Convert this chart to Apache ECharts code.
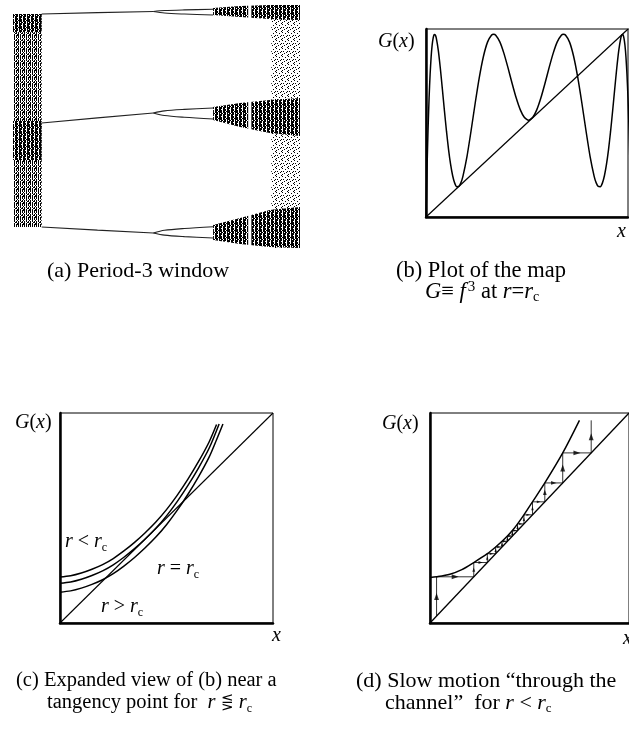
<!DOCTYPE html>
<html><head><meta charset="utf-8">
<script src="https://cdn.jsdelivr.net/npm/echarts@6/dist/echarts.min.js"></script>
<style>html,body{margin:0;padding:0;background:#fff}#c{width:629px;height:730px}</style>
</head><body><div id="c"></div><script>
// ---------- (a) Period-3 window : parameter r on x, orbit value on y ----------
const preSplitR   = [3.8276, 3.8346, 3.8416];
const topBranch   = [0.9578, 0.9625, 0.9667];
const midBranch   = [0.5676, 0.5860, 0.6033];
const lowBranch   = [0.1952, 0.1840, 0.1737];
const splitR      = [3.8416, 3.8430, 3.8455, 3.8491];
const topUpper    = [0.9667, 0.9701, 0.9724, 0.9746];
const topLower    = [0.9667, 0.9612, 0.9576, 0.9540];
const midUpper    = [0.6033, 0.6110, 0.6162, 0.6212];
const midLower    = [0.6033, 0.5941, 0.5879, 0.5819];
const lowUpper    = [0.1737, 0.1834, 0.1900, 0.1963];
const lowLower    = [0.1737, 0.1660, 0.1608, 0.1558];
// chaotic regions: r, lower edge, upper edge
const leftChaosR  = [3.8240, 3.8276];
const leftChaosLo = [0.1952, 0.1952];
const leftChaosHi = [0.9578, 0.9578];
const leftDark1Lo = [0.8930, 0.8930];
const leftDark1Hi = [0.9578, 0.9578];
const leftDark2Lo = [0.4351, 0.4351];
const leftDark2Hi = [0.5747, 0.5747];
const rightBandR  = [3.8491, 3.8525, 3.8562, 3.8600];
const topBandLo   = [0.9542, 0.9470, 0.9399, 0.9363];
const topBandHi   = [0.9793, 0.9864, 0.9900, 0.9900];
const midBandLo   = [0.5783, 0.5532, 0.5317, 0.5210];
const midBandHi   = [0.6248, 0.6391, 0.6499, 0.6570];
const lowBandLo   = [0.1487, 0.1344, 0.1236, 0.1200];
const lowBandHi   = [0.2024, 0.2274, 0.2561, 0.2668];
const innerWindowR  = [3.8535, 3.8539];
const innerWindowLo = [0.1200, 0.1200];
const innerWindowHi = [0.9900, 0.9900];
const rightChaosR  = [3.8564, 3.8600];
const rightChaosLo = [0.1200, 0.1200];
const rightChaosHi = [0.9900, 0.9900];

// ---------- (b) G = f^3 at r = rc ----------
const bX = [0,0.005,0.01,0.015,0.02,0.025,0.03,0.035,0.04,0.045,0.05,0.06,0.07,0.08,0.09,0.10,0.11,0.12,0.13,0.14,0.15,0.16,0.17,0.18,0.20,0.22,0.24,0.26,0.28,0.30,0.32,0.33,0.34,0.36,0.38,0.40,0.42,0.44,0.46,0.48,0.50,
  0.52,0.54,0.56,0.58,0.60,0.62,0.64,0.66,0.67,0.68,0.70,0.72,0.74,0.76,0.78,0.80,0.82,0.83,0.84,0.85,0.86,0.87,0.88,0.89,0.90,0.91,0.92,0.93,0.94,0.95,0.955,0.96,0.965,0.97,0.975,0.98,0.985,0.99,0.995,1.0];
const bG = [0,0.2542,0.4598,0.6224,0.7470,0.8384,0.9010,0.9389,0.9556,0.9545,0.9386,0.8731,0.7779,0.6680,0.5552,0.4482,0.3534,0.2752,0.2162,0.1775,0.1591,0.1600,0.1787,0.2129,0.3179,0.4532,0.5973,0.7314,0.8408,0.9162,0.9531,0.9571,0.9520,0.9175,0.8573,0.7811,0.6996,0.6233,0.5614,0.5211,0.5072,
  0.5211,0.5614,0.6233,0.6996,0.7811,0.8573,0.9175,0.9520,0.9571,0.9531,0.9162,0.8408,0.7314,0.5973,0.4532,0.3179,0.2129,0.1787,0.1600,0.1591,0.1775,0.2162,0.2752,0.3534,0.4482,0.5552,0.6680,0.7779,0.8731,0.9386,0.9545,0.9556,0.9389,0.9010,0.8384,0.7470,0.6224,0.4598,0.2542,0];

// ---------- (c) expanded view near tangency ----------
const cTopU = [0,0.05,0.1,0.15,0.2,0.25,0.3,0.35,0.4,0.45,0.5,0.55,0.6,0.65,0.7,0.735];
const cTopG = [0.219,0.225,0.238,0.256,0.278,0.307,0.343,0.384,0.430,0.481,0.540,0.608,0.684,0.768,0.862,0.945];
const cMidU = [0,0.05,0.1,0.15,0.2,0.25,0.3,0.35,0.4,0.45,0.5,0.55,0.6,0.65,0.7,0.747];
const cMidG = [0.189,0.195,0.208,0.226,0.248,0.277,0.313,0.354,0.400,0.451,0.510,0.578,0.654,0.738,0.832,0.948];
const cLowU = [0,0.05,0.1,0.15,0.2,0.25,0.3,0.35,0.4,0.45,0.5,0.55,0.6,0.65,0.7,0.735,0.765];
const cLowG = [0.147,0.153,0.166,0.184,0.206,0.235,0.271,0.312,0.358,0.409,0.468,0.536,0.612,0.696,0.790,0.873,0.948];

// ---------- (d) slow motion through the channel ----------
const dU = [0,0.033,0.1,0.16,0.22,0.288,0.33,0.362,0.389,0.414,0.44,0.472,0.515,0.577,0.667,0.751];
const dG = [0.217,0.220,0.232,0.254,0.288,0.330,0.362,0.389,0.414,0.440,0.472,0.515,0.577,0.667,0.810,0.965];
const orbit = [0.033,0.220,0.288,0.330,0.362,0.389,0.414,0.440,0.472,0.515,0.577,0.667,0.810,0.965];

// ---------- textures for the chaotic bands (style only) ----------
function tile(rows){
  const c=document.createElement('canvas'); c.width=rows[0].length; c.height=rows.length;
  const g=c.getContext('2d'); g.fillStyle='#fff'; g.fillRect(0,0,c.width,c.height); g.fillStyle='#000';
  rows.forEach((r,y)=>{for(let x=0;x<r.length;x++) if(r[x]==='#') g.fillRect(x,y,1,1);});
  return {image:c, repeat:'repeat'};
}
const darkFill = tile(["##.###.#","##.#.##.","##.###.#","#..###.#","##.##..#","##.###.#","#.####.#"]);
const medFill  = tile(["#.#.##","#.#.#.","#.#.#.","..#..#","#.#.#.","#..##.","#.#..#"]);
const lightFill= tile(["#.....","...#..","......",".#...#","....#.","..#...","#.....",".....#"]);

function band(gi, R, lo, hi, fill, z){
  return {type:'custom', xAxisIndex:gi, yAxisIndex:gi, silent:true, z:z||1,
    data: R.map((r,i)=>[r, lo[i], hi[i]]),
    renderItem: (p, api)=>{
      if(p.dataIndex!==0) return null;
      const pts=[];
      for(let i=0;i<R.length;i++) pts.push(api.coord([R[i], hi[i]]));
      for(let i=R.length-1;i>=0;i--) pts.push(api.coord([R[i], lo[i]]));
      return {type:'polygon', shape:{points:pts}, style:{fill:fill, stroke:null}};
    }};
}
function line(gi, xs, ys, w, color, extra){
  return Object.assign({type:'line', xAxisIndex:gi, yAxisIndex:gi, data: xs.map((x,i)=>[x, ys[i]]),
    symbol:'none', clip:true, silent:true, z:3, lineStyle:{color:color||'#000', width:w}}, extra||{});
}
function axes(gi, min, max, show, w){
  return {gridIndex:gi, type:'value', min:min, max:max, show:show,
    axisLine:{show:true, onZero:false, lineStyle:{color:'#000', width:w}},
    axisTick:{show:false}, axisLabel:{show:false}, splitLine:{show:false}};
}

// cobweb vertices built from the orbit
const web = [];
for(let i=0;i<orbit.length-1;i++){ web.push([orbit[i], orbit[i]]); web.push([orbit[i], orbit[i+1]]); }
const upArrows=[], rightArrows=[];
for(let i=0;i<orbit.length-1;i++){
  const len = orbit[i+1]-orbit[i];
  const s = Math.max(3.5, Math.min(7, len*60));
  upArrows.push({value:[orbit[i], (orbit[i]+orbit[i+1])/2], symbolSize:[s*0.7,s]});
  if(i<orbit.length-2) rightArrows.push({value:[(orbit[i]+orbit[i+1])/2, orbit[i+1]], symbolSize:[s,s*0.7]});
}

const serif='"Liberation Serif","DejaVu Serif",serif';
function mkRich(fs){
  return {
    n:{fontFamily:serif, fontSize:fs, lineHeight:24, fill:'#000'},
    i:{fontFamily:serif, fontSize:fs, lineHeight:24, fontStyle:'italic', fill:'#000'},
    sym:{fontFamily:'"DejaVu Serif",serif', fontSize:fs-6, lineHeight:24, fill:'#000'},
    sub:{fontFamily:serif, fontSize:Math.round(fs*0.6), lineHeight:9, verticalAlign:'bottom', fill:'#000'},
    sup:{fontFamily:serif, fontSize:Math.round(fs*0.65), lineHeight:9, verticalAlign:'top', fill:'#000', padding:[0,0,0,2]}
  };
}
const richLab = mkRich(20), richA = mkRich(22), richB = mkRich(22.5), richC = mkRich(20.5), richD = mkRich(22);
function txt(x, y, text, rich){
  return {type:'text', x:x, y:y, silent:true, z:10,
    style:{text:text, rich:rich||richLab, fontFamily:serif, fontSize:20, fill:'#000', verticalAlign:'middle', align:'left'}};
}

const chart = echarts.init(document.getElementById('c'), null, {renderer:'canvas'});
chart.setOption({
  animation:false,
  backgroundColor:'#fff',
  grid:[
    {left:13, top:5, width:287, height:243, show:false},
    {left:426, top:29, width:202, height:188, show:true, borderColor:'#000', borderWidth:1},
    {left:60, top:413, width:213, height:210, show:true, borderColor:'#000', borderWidth:1},
    {left:430, top:413, width:204, height:210, show:true, borderColor:'#000', borderWidth:1}
  ],
  xAxis:[ axes(0,3.824,3.860,false,1), axes(1,0,0.985,true,2.5), axes(2,0,1,true,2.5), axes(3,0,1,true,2.5) ],
  yAxis:[ axes(0,0.12,0.99,false,1), axes(1,0,0.985,true,2.5), axes(2,0,1,true,2.5), axes(3,0,1,true,2.5) ],
  series:[
    band(0, leftChaosR, leftChaosLo, leftChaosHi, medFill),
    band(0, leftChaosR, leftDark1Lo, leftDark1Hi, darkFill),
    band(0, leftChaosR, leftDark2Lo, leftDark2Hi, darkFill),
    band(0, rightChaosR, rightChaosLo, rightChaosHi, lightFill),
    band(0, rightBandR, topBandLo, topBandHi, darkFill),
    band(0, rightBandR, midBandLo, midBandHi, darkFill),
    band(0, rightBandR, lowBandLo, lowBandHi, darkFill),
    band(0, innerWindowR, innerWindowLo, innerWindowHi, '#fff', 2),
    line(0, preSplitR, topBranch, 1.2, '#222'),
    line(0, preSplitR, midBranch, 1.2, '#222'),
    line(0, preSplitR, lowBranch, 1.2, '#222'),
    line(0, splitR, topUpper, 1.1, '#222', {smooth:0.3}),
    line(0, splitR, topLower, 1.1, '#222', {smooth:0.3}),
    line(0, splitR, midUpper, 1.1, '#222', {smooth:0.3}),
    line(0, splitR, midLower, 1.1, '#222', {smooth:0.3}),
    line(0, splitR, lowUpper, 1.1, '#222', {smooth:0.3}),
    line(0, splitR, lowLower, 1.1, '#222', {smooth:0.3}),
    // (b)
    line(1, bX, bG, 1.5, '#000', {smooth:0.2}),
    line(1, [0,1], [0,1], 1.2),
    // (c)
    line(2, cTopU, cTopG, 1.5, '#000', {smooth:0.3}),
    line(2, cMidU, cMidG, 1.5, '#000', {smooth:0.3}),
    line(2, cLowU, cLowG, 1.5, '#000', {smooth:0.3}),
    line(2, [0,1], [0,1], 1.1),
    // (d)
    line(3, dU, dG, 1.5, '#000', {smooth:0.3}),
    line(3, [0,1], [0,1], 1.3),
    {type:'line', xAxisIndex:3, yAxisIndex:3, data:web, symbol:'none', silent:true, z:2, lineStyle:{color:'#333', width:1}},
    {type:'scatter', xAxisIndex:3, yAxisIndex:3, data:upArrows, symbol:'path://M5,0L10,10L0,10Z', symbolKeepAspect:false, itemStyle:{color:'#000'}, silent:true, z:4},
    {type:'scatter', xAxisIndex:3, yAxisIndex:3, data:rightArrows, symbol:'path://M0,0L10,5L0,10Z', symbolKeepAspect:false, itemStyle:{color:'#000'}, silent:true, z:4}
  ],
  graphic:[
    txt(47, 271, '{n|(a) Period-3 window}', richA),
    txt(396, 271, '{n|(b) Plot of the map}', richB),
    txt(425, 292, '{i|G}{n|≡ }{i|f}{sup|3}{n| at }{i|r}{n|=}{i|r}{sub|c}', richB),
    txt(16, 681, '{n|(c) Expanded view of (b) near a}', richC),
    txt(47, 703, '{n|tangency point for  }{i|r}{n| }{sym|⋚}{n| }{i|r}{sub|c}', richC),
    txt(356, 681, '{n|(d) Slow motion “through the}', richD),
    txt(385, 703, '{n|channel”  for }{i|r}{n| < }{i|r}{sub|c}', richD),
    txt(378, 42, '{i|G}{n|(}{i|x}{n|)}'),
    txt(15, 423, '{i|G}{n|(}{i|x}{n|)}'),
    txt(382, 424, '{i|G}{n|(}{i|x}{n|)}'),
    txt(617, 232, '{i|x}'),
    txt(272, 636, '{i|x}'),
    txt(623, 639, '{i|x}'),
    txt(65, 542, '{i|r}{n| < }{i|r}{sub|c}'),
    txt(157, 569, '{i|r}{n| = }{i|r}{sub|c}'),
    txt(101, 607, '{i|r}{n| > }{i|r}{sub|c}')
  ]
});
</script></body></html>
